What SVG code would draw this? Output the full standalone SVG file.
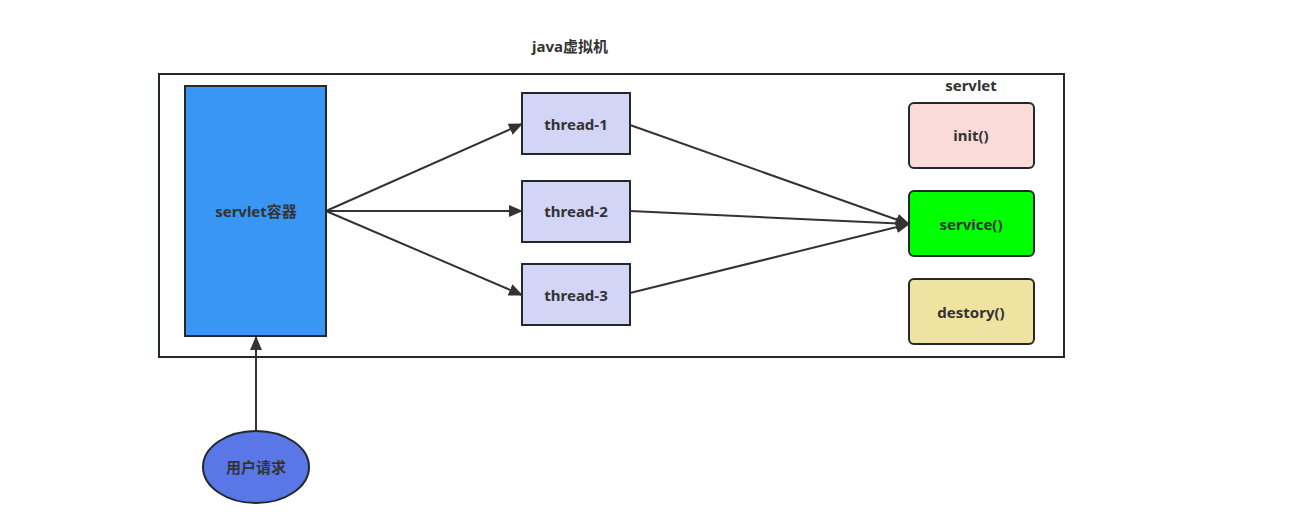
<svg xmlns="http://www.w3.org/2000/svg" width="1291" height="524" viewBox="0 0 1291 524">
<style>
text{font-family:"Noto Sans","Noto Sans CJK SC",sans-serif;font-weight:bold;font-size:15px;fill:#333;text-anchor:middle;dominant-baseline:central}
.b{stroke:#23282e;stroke-width:2}
.c{stroke:#333;stroke-width:2;fill:none;marker-end:url(#ah)}
</style>
<defs>
<marker id="ah" viewBox="0 0 14 12" refX="13" refY="6" markerWidth="14" markerHeight="12" markerUnits="userSpaceOnUse" orient="auto"><path d="M0,0 L14,6 L0,12 Z" fill="#333"/></marker>
</defs>
<rect width="1291" height="524" fill="#fff"/>
<g id="jvm">
<rect x="159" y="74" width="905" height="283" fill="#fff" class="b"/>
<text x="570" y="46">java虚拟机</text>
<text x="971" y="85">servlet</text>
</g>
<g id="container"><rect x="185" y="86" width="141" height="250" fill="#3a96f5" class="b"/><text x="256" y="211">servlet容器</text></g>
<g id="thread1"><rect x="522" y="93" width="108" height="61" fill="#d3d5f7" class="b"/><text x="576" y="124">thread-1</text></g>
<g id="thread2"><rect x="522" y="181" width="108" height="61" fill="#d3d5f7" class="b"/><text x="576" y="211">thread-2</text></g>
<g id="thread3"><rect x="522" y="264" width="108" height="61" fill="#d3d5f7" class="b"/><text x="576" y="295">thread-3</text></g>
<g id="init"><rect x="909" y="103" width="125" height="65" rx="5" fill="#fadbd9" class="b"/><text x="971" y="135">init()</text></g>
<g id="service"><rect x="909" y="191" width="125" height="65" rx="5" fill="#00ff00" class="b"/><text x="971" y="224">service()</text></g>
<g id="destory"><rect x="909" y="279" width="125" height="65" rx="5" fill="#f0e2a0" class="b"/><text x="971" y="312">destory()</text></g>
<g id="request"><ellipse cx="256" cy="467" rx="53" ry="36" fill="#5a77e8" class="b"/><text x="256" y="467">用户请求</text></g>
<g id="connectors">
<path class="c" d="M256,431 L256,337"/>
<path class="c" d="M326,211 L522,124"/>
<path class="c" d="M326,211 L522,211"/>
<path class="c" d="M326,211 L522,295"/>
<path class="c" d="M630,125 L909,224"/>
<path class="c" d="M630,211 L909,224"/>
<path class="c" d="M630,293 L909,224"/>
</g>
</svg>
